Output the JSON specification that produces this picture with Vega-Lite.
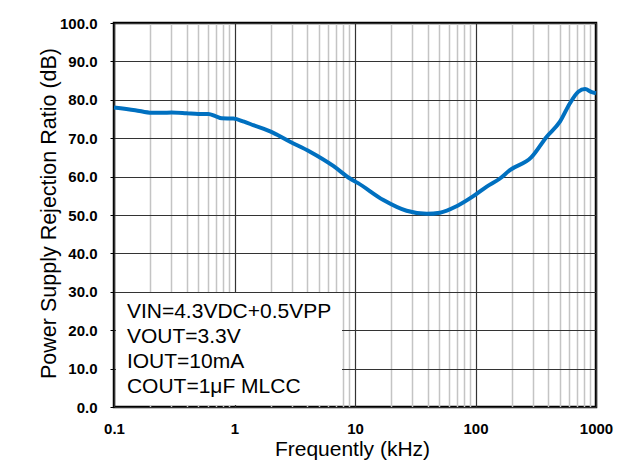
{
  "$schema": "https://vega.github.io/schema/vega-lite/v6.json",
  "width": 482,
  "height": 384,
  "autosize": "none",
  "padding": {"left": 114, "top": 23, "right": 27, "bottom": 55},
  "background": "white",
  "config": {"view": {"stroke": "black", "strokeWidth": 2.5}, "font": "Liberation Sans"},
  "layer": [
    {
      "data": {
        "values": [
          {"f": 0.1, "psrr": 78.0},
          {"f": 0.15, "psrr": 77.3},
          {"f": 0.206, "psrr": 76.6},
          {"f": 0.25, "psrr": 76.6},
          {"f": 0.301, "psrr": 76.7},
          {"f": 0.4, "psrr": 76.5},
          {"f": 0.5, "psrr": 76.3},
          {"f": 0.607, "psrr": 76.3},
          {"f": 0.7, "psrr": 75.7},
          {"f": 0.783, "psrr": 75.2},
          {"f": 0.978, "psrr": 75.1},
          {"f": 1.2, "psrr": 74.3},
          {"f": 1.43, "psrr": 73.4},
          {"f": 2.1, "psrr": 71.4},
          {"f": 2.89, "psrr": 69.1},
          {"f": 4.23, "psrr": 66.5},
          {"f": 6.6, "psrr": 62.8},
          {"f": 9.1, "psrr": 59.5},
          {"f": 10.6, "psrr": 58.3},
          {"f": 17.2, "psrr": 53.9},
          {"f": 26.8, "psrr": 51.1},
          {"f": 39.4, "psrr": 50.3},
          {"f": 50.7, "psrr": 50.6},
          {"f": 69.8, "psrr": 52.3},
          {"f": 95.9, "psrr": 54.9},
          {"f": 124, "psrr": 57.4},
          {"f": 159.6, "psrr": 59.5},
          {"f": 193, "psrr": 61.7},
          {"f": 290, "psrr": 65.0},
          {"f": 390, "psrr": 70.4},
          {"f": 502, "psrr": 74.3},
          {"f": 608, "psrr": 79.1},
          {"f": 713, "psrr": 82.1},
          {"f": 811, "psrr": 82.8},
          {"f": 921, "psrr": 82.0},
          {"f": 1000, "psrr": 81.7}
        ]
      },
      "mark": {"type": "line", "color": "#0070C0", "strokeWidth": 4, "interpolate": "monotone"},
      "encoding": {
        "x": {
          "field": "f",
          "type": "quantitative",
          "scale": {"type": "log", "domain": [0.1, 1000], "nice": false},
          "axis": {
            "title": "Frequently (kHz)",
            "values": [0.1, 0.2, 0.3, 0.4, 0.5, 0.6, 0.7, 0.8, 0.9, 1, 2, 3, 4, 5, 6, 7, 8, 9, 10, 20, 30, 40, 50, 60, 70, 80, 90, 100, 200, 300, 400, 500, 600, 700, 800, 900, 1000],
            "format": "~g",
            "labelExpr": "indexof([0.1, 1, 10, 100, 1000], datum.value) >= 0 ? datum.label : ''",
            "labelOverlap": false,
            "labelFlush": false,
            "labelFont": "Liberation Sans",
            "labelFontWeight": "bold",
            "labelFontSize": 15,
            "labelColor": "black",
            "labelPadding": 14,
            "ticks": false,
            "domain": false,
            "grid": true,
            "gridColor": {"condition": {"test": "indexof([0.1, 1, 10, 100, 1000], datum.value) >= 0", "value": "#333333"}, "value": "#c4c4c4"},
            "gridWidth": {"condition": {"test": "indexof([0.1, 1, 10, 100, 1000], datum.value) >= 0", "value": 1.2}, "value": 1.5},
            "gridOpacity": 1,
            "titleFont": "Liberation Sans",
            "titleFontSize": 21,
            "titleFontWeight": "normal",
            "titleColor": "black",
            "titleX": 238,
            "titleY": 48,
            "titleBaseline": "alphabetic",
            "titleAlign": "center"
          }
        },
        "y": {
          "field": "psrr",
          "type": "quantitative",
          "scale": {"domain": [0, 100], "nice": false, "zero": true},
          "axis": {
            "title": "Power Supply Rejection Ratio (dB)",
            "values": [0, 10, 20, 30, 40, 50, 60, 70, 80, 90, 100],
            "tickCount": 11,
            "format": ".1f",
            "labelOverlap": false,
            "labelFont": "Liberation Sans",
            "labelFontWeight": "bold",
            "labelFontSize": 15,
            "labelColor": "black",
            "labelPadding": 13,
            "tickSize": 4,
            "tickColor": "black",
            "tickWidth": 1,
            "domain": false,
            "grid": true,
            "gridColor": "#333333",
            "gridWidth": 1.2,
            "gridOpacity": 1,
            "titleFont": "Liberation Sans",
            "titleFontSize": 21.5,
            "titleFontWeight": "normal",
            "titleColor": "black",
            "titleAngle": -90,
            "titleX": -59,
            "titleY": 190,
            "titleBaseline": "alphabetic",
            "titleAlign": "center"
          }
        }
      }
    },
    {
      "data": {"values": [{}]},
      "mark": {"type": "rect", "fill": "white", "xOffset": 2, "yOffset": -2},
      "encoding": {
        "x": {"datum": 0.1},
        "x2": {"datum": 7.8},
        "y": {"datum": 0},
        "y2": {"datum": 29.7}
      }
    },
    {
      "data": {"values": [{}]},
      "mark": {
        "type": "text",
        "text": ["VIN=4.3VDC+0.5VPP", "VOUT=3.3V", "IOUT=10mA", "COUT=1μF MLCC"],
        "align": "left",
        "baseline": "alphabetic",
        "fontSize": 21,
        "lineHeight": 25,
        "font": "Liberation Sans",
        "color": "black"
      },
      "encoding": {
        "x": {"datum": 0.128},
        "y": {"datum": 23.2}
      }
    }
  ]
}
